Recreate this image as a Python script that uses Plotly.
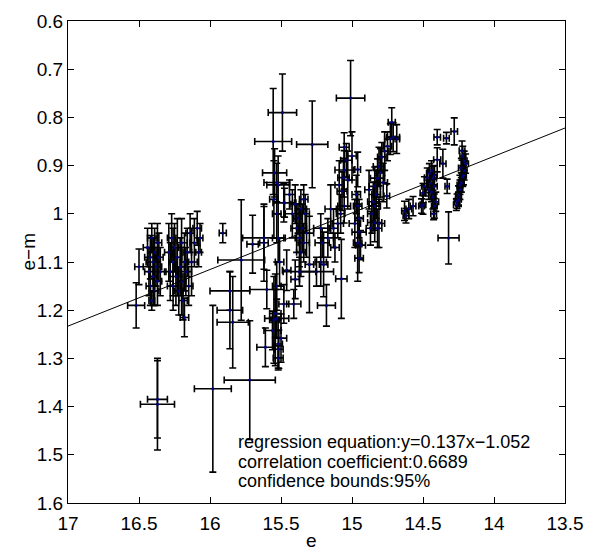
import plotly.graph_objects as go

# ---- data ----
e = [16.52, 16.50, 16.44, 16.43, 16.42, 16.42, 16.41, 16.40, 16.40, 16.39, 16.39, 16.38, 16.37, 16.37, 16.36, 16.35, 16.41,
     16.29, 16.28, 16.27, 16.26, 16.26, 16.25, 16.24, 16.23, 16.22, 16.21, 16.20, 16.20, 16.19, 16.18, 16.18, 16.17, 16.16, 16.15, 16.14, 16.13, 16.11, 16.09, 16.08, 16.07,
     16.37, 16.37,
     15.91, 15.98, 15.72, 15.86, 15.84, 15.86, 15.78, 15.62, 15.70, 15.60,
     15.62, 15.55, 15.54, 15.48, 15.54, 15.53, 15.56, 15.50, 15.61, 15.515, 15.52, 15.52, 15.53, 15.51, 15.52,
     15.49, 15.555, 15.28, 15.545, 15.53, 15.52, 15.48, 15.55, 15.53, 15.475, 15.01,
     15.44, 15.42, 15.40, 15.40, 15.41, 15.39, 15.38, 15.37, 15.37, 15.36, 15.36, 15.35, 15.34, 15.34, 15.33, 15.32, 15.30, 15.46, 15.25, 15.20, 15.18, 15.22, 15.21, 15.075,
     15.15, 15.13, 15.17, 15.12, 15.22,
     15.055, 15.04, 15.055, 15.06, 15.07, 15.055, 15.08, 15.10, 15.09, 15.03, 14.96, 14.96, 14.95, 14.95, 14.94, 14.95, 14.96, 14.97, 14.98, 15.00,
     14.72, 14.71, 14.73, 14.75, 14.77, 14.79, 14.81, 14.82, 14.80, 14.84, 14.83, 14.755, 14.85, 14.84, 14.86, 14.84, 14.82, 14.87, 14.81, 14.88, 14.78, 14.685,
     14.63, 14.60, 14.57, 14.62,
     14.40, 14.335, 14.28, 14.40, 14.36, 14.455, 14.43, 14.45, 14.49, 14.42, 14.44, 14.43, 14.41, 14.42, 14.50, 14.50, 14.51, 14.425, 14.33, 14.47, 14.46, 14.44, 14.42,
     14.225, 14.22, 14.21, 14.20, 14.21, 14.22, 14.23, 14.24, 14.25, 14.26, 14.265, 14.24, 14.23, 14.215, 14.25,
     14.32]
em = [1.19, 1.11, 1.07, 1.12, 1.09, 1.15, 1.05, 1.10, 1.13, 1.08, 1.16, 1.11, 1.06, 1.14, 1.09, 1.12, 1.18,
      1.08, 1.12, 1.05, 1.10, 1.15, 1.07, 1.13, 1.09, 1.16, 1.11, 1.06, 1.14, 1.18, 1.215, 1.10, 1.12, 1.08, 1.15, 1.04, 1.10, 1.06, 1.03, 1.08, 1.05,
      1.395, 1.385,
      1.04, 1.363, 1.345, 1.20, 1.225, 1.16, 1.096, 1.05, 1.063, 1.157,
      1.06, 1.22, 1.22, 1.187, 1.207, 1.217, 1.242, 1.258, 1.277, 1.281, 1.299, 1.27, 1.15, 1.10, 1.05,
      0.79, 0.85, 0.856, 0.915, 0.935, 0.94, 0.977, 0.97, 1.00, 0.977, 0.76,
      0.96, 1.00, 0.98, 1.136, 1.187, 1.03, 1.01, 1.12, 1.05, 0.99, 1.08, 1.03, 0.97, 1.06, 1.00, 1.04, 1.105, 1.117, 1.12, 1.105, 1.19, 1.03, 1.06, 1.135,
      0.99, 1.03, 1.05, 1.07, 1.10,
      0.862, 0.889, 0.909, 0.925, 0.953, 0.984, 1.00, 1.02, 0.94, 0.93, 0.908, 0.984, 1.01, 1.038, 1.065, 1.092, 1.06, 0.96, 1.02, 0.88,
      0.81, 0.841, 0.845, 0.86, 0.87, 0.882, 0.902, 0.926, 0.915, 0.943, 0.96, 0.963, 0.975, 0.984, 1.00, 1.018, 1.03, 1.03, 1.02, 0.95, 0.935, 0.845,
      0.994, 0.99, 0.984, 1.004,
      0.841, 0.843, 0.829, 0.888, 0.896, 0.916, 0.926, 0.936, 0.943, 0.943, 0.955, 0.965, 0.975, 0.984, 0.957, 0.981, 0.984, 1.0, 0.943, 0.925, 0.95, 0.91, 0.92,
      0.869, 0.88, 0.89, 0.896, 0.91, 0.923, 0.935, 0.95, 0.962, 0.974, 0.981, 0.94, 0.905, 0.92, 0.97,
      1.05]
e_err = [0.06, 0.03, 0.03, 0.03, 0.04, 0.03, 0.03, 0.05, 0.03, 0.03, 0.03, 0.04, 0.03, 0.03, 0.03, 0.04, 0.02,
         0.03, 0.04, 0.03, 0.03, 0.04, 0.03, 0.05, 0.03, 0.03, 0.03, 0.04, 0.03, 0.03, 0.03, 0.03, 0.04, 0.03, 0.03, 0.03, 0.04, 0.03, 0.03, 0.02, 0.02,
         0.12, 0.07,
         0.025, 0.13, 0.18, 0.09, 0.11, 0.14, 0.165, 0.15, 0.04, 0.12,
         0.03, 0.03, 0.03, 0.035, 0.04, 0.085, 0.06, 0.04, 0.06, 0.03, 0.035, 0.03, 0.03, 0.03, 0.04,
         0.10, 0.13, 0.11, 0.085, 0.09, 0.08, 0.075, 0.03, 0.03, 0.08, 0.10,
         0.04, 0.05, 0.03, 0.03, 0.05, 0.04, 0.03, 0.115, 0.03, 0.04, 0.03, 0.03, 0.03, 0.04, 0.03, 0.05, 0.03, 0.03, 0.12, 0.03, 0.063, 0.05, 0.05, 0.04,
         0.04, 0.03, 0.04, 0.03, 0.04,
         0.035, 0.04, 0.065, 0.04, 0.035, 0.045, 0.03, 0.04, 0.03, 0.03, 0.02, 0.03, 0.03, 0.05, 0.035, 0.03, 0.03, 0.03, 0.04, 0.03,
         0.025, 0.045, 0.04, 0.03, 0.03, 0.03, 0.04, 0.05, 0.03, 0.04, 0.03, 0.02, 0.04, 0.04, 0.03, 0.05, 0.03, 0.03, 0.04, 0.03, 0.03, 0.02,
         0.02, 0.02, 0.02, 0.02,
         0.023, 0.02, 0.023, 0.025, 0.022, 0.02, 0.025, 0.025, 0.02, 0.02, 0.02, 0.02, 0.02, 0.02, 0.02, 0.02, 0.02, 0.02, 0.015, 0.02, 0.02, 0.02, 0.02,
         0.02, 0.02, 0.02, 0.02, 0.02, 0.02, 0.02, 0.02, 0.02, 0.02, 0.02, 0.02, 0.02, 0.02, 0.02,
         0.074]
em_err = [0.047, 0.037, 0.04, 0.05, 0.045, 0.04, 0.03, 0.05, 0.06, 0.05, 0.03, 0.04, 0.04, 0.05, 0.05, 0.05, 0.02,
          0.06, 0.06, 0.05, 0.07, 0.05, 0.05, 0.06, 0.08, 0.05, 0.06, 0.05, 0.07, 0.04, 0.04, 0.06, 0.05, 0.05, 0.04, 0.04, 0.07, 0.05, 0.035, 0.03, 0.03,
          0.095, 0.08,
          0.02, 0.173, 0.123, 0.08, 0.095, 0.04, 0.125, 0.065, 0.06, 0.04,
          0.08, 0.09, 0.095, 0.04, 0.05, 0.04, 0.04, 0.05, 0.04, 0.04, 0.025, 0.05, 0.05, 0.05, 0.05,
          0.08, 0.11, 0.09, 0.05, 0.04, 0.06, 0.04, 0.08, 0.06, 0.03, 0.078,
          0.03, 0.05, 0.04, 0.04, 0.03, 0.05, 0.03, 0.03, 0.06, 0.04, 0.05, 0.05, 0.03, 0.04, 0.04, 0.05, 0.10, 0.042, 0.03, 0.067, 0.043, 0.03, 0.03, 0.082,
          0.05, 0.04, 0.04, 0.03, 0.05,
          0.03, 0.035, 0.04, 0.04, 0.04, 0.035, 0.04, 0.03, 0.05, 0.06, 0.036, 0.03, 0.04, 0.03, 0.03, 0.03, 0.08, 0.04, 0.05, 0.05,
          0.03, 0.03, 0.032, 0.03, 0.04, 0.03, 0.04, 0.04, 0.05, 0.04, 0.05, 0.025, 0.04, 0.05, 0.04, 0.04, 0.04, 0.035, 0.05, 0.04, 0.04, 0.03,
          0.02, 0.02, 0.02, 0.015,
          0.016, 0.012, 0.028, 0.025, 0.03, 0.02, 0.025, 0.02, 0.02, 0.025, 0.02, 0.025, 0.02, 0.025, 0.02, 0.02, 0.015, 0.012, 0.015, 0.02, 0.02, 0.02, 0.02,
          0.02, 0.02, 0.02, 0.02, 0.02, 0.02, 0.02, 0.02, 0.02, 0.015, 0.012, 0.02, 0.02, 0.02, 0.015,
          0.054]

# regression line end points
reg_e = [17.0, 13.5]
reg_em = [1.233, 0.822]

x_ticks = [17, 16.5, 16, 15.5, 15, 14.5, 14, 13.5]
x_labels = ["17", "16.5", "16", "15.5", "15", "14.5", "14", "13.5"]
y_ticks = [0.6, 0.7, 0.8, 0.9, 1.0, 1.1, 1.2, 1.3, 1.4, 1.5, 1.6]
y_labels = ["0.6", "0.7", "0.8", "0.9", "1", "1.1", "1.2", "1.3", "1.4", "1.5", "1.6"]

notes = ["regression equation:y=0.137x−1.052",
         "correlation coefficient:0.6689",
         "confidence bounds:95%"]
note_x = 15.82
note_y = [1.473, 1.514, 1.555]

FONT = "Liberation Sans, Arial, Helvetica, sans-serif"

L, R, T, B = 68, 26, 11, 49
W, H = 594, 552
pw, ph = W - L - R, H - T - B

fig = go.Figure()
fig.add_trace(go.Scatter(
    x=e, y=em, mode="markers",
    marker=dict(size=3, color="#000080"),
    error_x=dict(type="data", array=e_err, visible=True, color="black", thickness=1.6, width=3.5),
    error_y=dict(type="data", array=em_err, visible=True, color="black", thickness=1.6, width=3.5),
    showlegend=False, hoverinfo="skip"))
fig.add_trace(go.Scatter(x=reg_e, y=reg_em, mode="lines",
                         line=dict(color="black", width=1), showlegend=False, hoverinfo="skip"))

for t, yy in zip(notes, note_y):
    fig.add_annotation(x=note_x, y=yy, xref="x", yref="y", text=t, showarrow=False,
                       xanchor="left", yanchor="middle",
                       font=dict(family=FONT, size=18, color="black"))

# axis titles (positions given in page pixels, converted to paper fractions)
fig.add_annotation(x=0.49, y=(H - B - 541) / ph, xref="paper", yref="paper", text="e",
                   showarrow=False, xanchor="center", yanchor="middle",
                   font=dict(family=FONT, size=19, color="black"))
fig.add_annotation(x=(28 - L) / pw, y=(H - B - 246) / ph, xref="paper", yref="paper", text="e−m",
                   showarrow=False, textangle=-90, xanchor="center", yanchor="middle",
                   font=dict(family=FONT, size=19, color="black"))

axis_common = dict(showline=True, linecolor="black", linewidth=1, mirror="ticks",
                   ticks="inside", ticklen=6, tickcolor="black", showgrid=False,
                   zeroline=False, tickfont=dict(family=FONT, size=19, color="black"))
fig.update_xaxes(range=[17, 13.5], tickvals=x_ticks, ticktext=x_labels, ticklabelstandoff=3, **axis_common)
fig.update_yaxes(range=[1.6, 0.6], tickvals=y_ticks, ticktext=y_labels, **axis_common)
fig.update_layout(width=W, height=H, margin=dict(l=L, r=R, t=T, b=B),
                  plot_bgcolor="white", paper_bgcolor="white")
fig.write_html("out.html", config={"displayModeBar": False},
               post_script="document.body.style.margin='0px';document.body.style.overflow='hidden';")
